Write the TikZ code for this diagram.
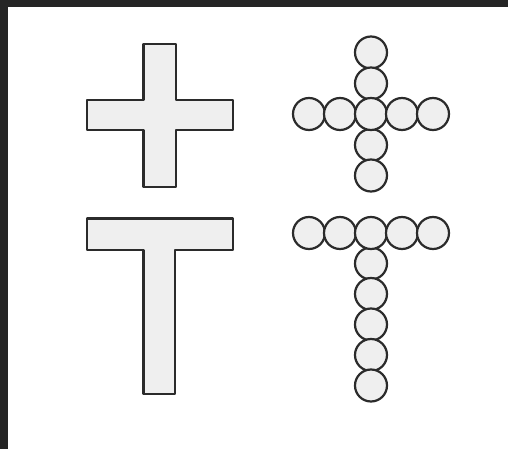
\documentclass[tikz,border=0pt]{standalone}
\usepackage{tikz}
\usepackage{xcolor}
\definecolor{frameDark}{HTML}{252525}
\definecolor{shapeFill}{HTML}{EFEFEF}
\definecolor{shapeLine}{HTML}{2B2B2B}
\tikzset{
  solidShape/.style={draw=shapeLine, fill=shapeFill, line width=0.11cm, line join=round},
  bead/.style={circle, draw=shapeLine, fill=shapeFill, line width=0.11cm, minimum size=1.6cm, inner sep=0pt}
}

\begin{document}
\begin{tikzpicture}[x=0.05cm,y=-0.05cm]
  \fill[frameDark] (0,0) rectangle (508,449);
  \fill[white] (8,7) rectangle (508,449);
  % solid cross
  \draw[solidShape] (143.5,44) -- (176,44) -- (176,100) -- (233,100) -- (233,130)
    -- (176,130) -- (176,187) -- (143.5,187) -- (143.5,130) -- (87,130)
    -- (87,100) -- (143.5,100) -- cycle;
  % solid T
  \draw[solidShape] (87,218.5) -- (233,218.5) -- (233,250) -- (175,250) -- (175,394)
    -- (143.5,394) -- (143.5,250) -- (87,250) -- cycle;
  % bead cross
  \foreach \i/\y in {1/52.5,2/83.5,3/145,4/175.5}
    \node[bead] (cv\i) at (371,\y) {};
  \foreach \i/\x in {1/309,2/340,3/371,4/402,5/433}
    \node[bead] (ch\i) at (\x,114) {};
  % bead T
  \foreach \i/\y in {1/263.5,2/294,3/324.5,4/355,5/385.5}
    \node[bead] (tv\i) at (371,\y) {};
  \foreach \i/\x in {1/309,2/340,3/371,4/402,5/433}
    \node[bead] (th\i) at (\x,233) {};
\end{tikzpicture}
\end{document}
